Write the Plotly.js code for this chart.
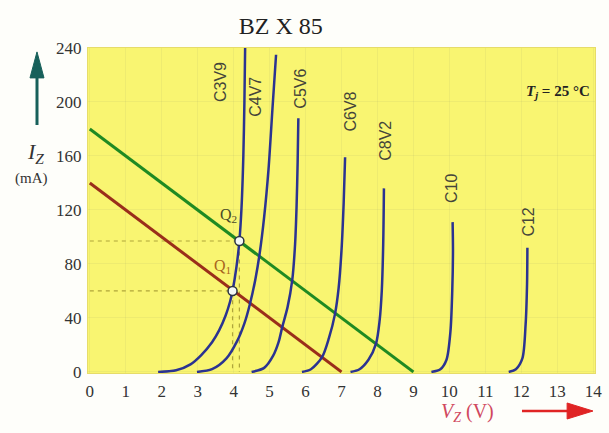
<!DOCTYPE html>
<html>
<head>
<meta charset="utf-8">
<script src="https://cdn.plot.ly/plotly-3.0.1.min.js"></script>
<style>
  html, body { margin: 0; padding: 0; background: #fefefa; }
  #chart { width: 609px; height: 433px; }
</style>
</head>
<body>
<div id="chart"></div>
<script>
// Zener reverse characteristics, BZX85 series (Tj = 25 °C)
const voltTicks = [0, 1, 2, 3, 4, 5, 6, 7, 8, 9, 10, 11, 12, 13, 14];
const currentTicks = [0, 40, 80, 120, 160, 200, 240];

// Diode curves: voltage (V) and current (mA)
const c3v9V = [1.9, 2.4, 2.8, 3.1, 3.4, 3.6, 3.78, 3.9, 3.97, 4.08, 4.16, 4.22, 4.27, 4.3, 4.32];
const c3v9I = [0, 1.2, 5.6, 12.5, 22, 31, 42, 52, 60, 78, 97, 122, 160, 200, 240];
const c4v7V = [2.98, 3.4, 3.8, 4.1, 4.3, 4.45, 4.6, 4.72, 4.85, 4.97, 5.08, 5.18];
const c4v7I = [0, 2, 10, 23, 36, 50, 68, 87, 115, 150, 195, 235];
const c5v6V = [4.5, 4.85, 5.1, 5.25, 5.35, 5.5, 5.63, 5.71, 5.75, 5.78, 5.8];
const c5v6I = [0, 3, 12, 22, 33, 48, 68, 95, 122, 155, 188];
const c6v8V = [5.9, 6.15, 6.46, 6.65, 6.82, 6.92, 7.0, 7.06, 7.1];
const c6v8I = [0, 2, 11, 25, 43, 62, 90, 125, 159];
const c8v2V = [7.25, 7.5, 7.75, 7.96, 8.06, 8.12, 8.16, 8.18];
const c8v2I = [0, 2, 9, 21, 38, 60, 95, 136];
const c10V = [9.5, 9.75, 9.92, 10.03, 10.08, 10.1, 10.09];
const c10I = [0, 2, 9, 30, 60, 90, 111];
const c12V = [11.65, 11.85, 12.03, 12.12, 12.16, 12.17];
const c12I = [0, 2, 10, 35, 65, 92];

const diodeNames = ['C3V9', 'C4V7', 'C5V6', 'C6V8', 'C8V2', 'C10', 'C12'];

// Load lines
const loadHighV = [0, 9];
const loadHighI = [180, 0];
const loadLowV = [0, 7];
const loadLowI = [140, 0];

// Operating points
const q1 = [3.97, 60];
const q2 = [4.16, 97];

const curveSets = [
  [c3v9V, c3v9I], [c4v7V, c4v7I], [c5v6V, c5v6I], [c6v8V, c6v8I],
  [c8v2V, c8v2I], [c10V, c10I], [c12V, c12I]
];
// label placement (x, y) for each diode name
const labelPos = [[3.63, 215], [4.6, 204], [5.85, 210], [7.24, 193], [8.2, 171], [10.06, 136], [12.2, 111]];

const navy = '#2b3391';
const dashCol = '#b0a53a';
const traces = [];

// Dashed guides to the operating points
[q1, q2].forEach(q => {
  traces.push({ x: [0, q[0], q[0]], y: [q[1], q[1], 0], mode: 'lines',
    line: { color: dashCol, width: 1.2, dash: '4px,4px' }, hoverinfo: 'skip' });
});

traces.push({ x: loadLowV, y: loadLowI, mode: 'lines', line: { color: '#9a2e1a', width: 3 } });
traces.push({ x: loadHighV, y: loadHighI, mode: 'lines', line: { color: '#1f8a22', width: 3 } });

curveSets.forEach(c => {
  traces.push({ x: c[0], y: c[1], mode: 'lines',
    line: { color: navy, width: 2.5, shape: 'spline', smoothing: 0.8 } });
});

traces.push({ x: [q1[0], q2[0]], y: [q1[1], q2[1]], mode: 'markers',
  marker: { size: 9, color: '#f4f8f6', line: { color: '#2b3340', width: 1.5 } } });

const ann = [];
diodeNames.forEach((n, i) => {
  ann.push({ x: labelPos[i][0], y: labelPos[i][1], xref: 'x', yref: 'y', text: n,
    showarrow: false, textangle: -90,
    font: { family: 'Liberation Sans, Arial, sans-serif', size: 16, color: '#45453a' } });
});
ann.push({ x: 3.85, y: 116, xref: 'x', yref: 'y', text: 'Q<sub>2</sub>', showarrow: false,
  font: { family: 'Liberation Serif, serif', size: 16, color: '#4a4a28' } });
ann.push({ x: 3.7, y: 78, xref: 'x', yref: 'y', text: 'Q<sub>1</sub>', showarrow: false,
  font: { family: 'Liberation Serif, serif', size: 16, color: '#a8641c' } });
ann.push({ x: 0.994, y: 0.865, xref: 'paper', yref: 'paper', xanchor: 'right', yanchor: 'middle',
  text: '<b><i>T<sub>j</sub></i> = 25 °C</b>',
  showarrow: false, font: { family: 'Liberation Serif, serif', size: 15, color: '#222' } });
ann.push({ x: -0.1026, y: 0.677, xref: 'paper', yref: 'paper', xanchor: 'center', yanchor: 'middle',
  text: '<i>I<sub>Z</sub></i>',
  showarrow: false, font: { family: 'Liberation Serif, serif', size: 22, color: '#333' } });
ann.push({ x: -0.112, y: 0.6, xref: 'paper', yref: 'paper', xanchor: 'center', yanchor: 'middle',
  text: '(mA)',
  showarrow: false, font: { family: 'Liberation Serif, serif', size: 15, color: '#333' } });
ann.push({ x: 0.7495, y: -0.123, xref: 'paper', yref: 'paper', xanchor: 'center', yanchor: 'middle',
  text: '<i>V<sub>Z</sub></i> (V)',
  showarrow: false, font: { family: 'Liberation Serif, serif', size: 20, color: '#d0485e' } });

const shapes = [
  // vertical arrow for current
  { type: 'line', xref: 'paper', yref: 'paper', x0: -0.1006, x1: -0.1006, y0: 0.763, y1: 0.92,
    line: { color: '#17605a', width: 3 } },
  { type: 'path', xref: 'paper', yref: 'paper', path: 'M -0.1006 0.988 L -0.1144 0.908 L -0.0868 0.908 Z',
    fillcolor: '#17605a', line: { color: '#17605a', width: 1 } },
  // horizontal arrow for voltage
  { type: 'line', xref: 'paper', yref: 'paper', x0: 0.856, x1: 0.955, y0: -0.117, y1: -0.117,
    line: { color: '#e02424', width: 2.5 } },
  { type: 'path', xref: 'paper', yref: 'paper', path: 'M 0.996 -0.117 L 0.945 -0.0923 L 0.945 -0.1415 Z',
    fillcolor: '#e02424', line: { color: '#e02424', width: 1 } }
];

const tickFont = { family: 'Liberation Serif, serif', size: 17, color: '#333' };

const layout = {
  width: 609, height: 433,
  margin: { l: 88, r: 14, t: 48, b: 60 },
  paper_bgcolor: '#fefefa',
  plot_bgcolor: '#f9f571',
  showlegend: false,
  title: { text: 'BZ X 85', x: 0.461, xref: 'container', y: 0.942, yref: 'container',
    xanchor: 'center', yanchor: 'middle',
    font: { family: 'Liberation Serif, serif', size: 24, color: '#222' } },
  xaxis: {
    range: [-0.05, 14.05], tickvals: voltTicks, ticktext: voltTicks.map(String),
    showgrid: true, gridcolor: 'rgba(150,150,110,0.10)', gridwidth: 1,
    zeroline: false, showline: true, linecolor: '#e6dc6a', mirror: true,
    ticks: '', tickfont: tickFont, ticklabelstandoff: 3, fixedrange: true
  },
  yaxis: {
    range: [-0.8, 240], tickvals: currentTicks, ticktext: currentTicks.map(String),
    showgrid: true, gridcolor: 'rgba(150,150,110,0.10)', gridwidth: 1,
    zeroline: false, showline: true, linecolor: '#e6dc6a', mirror: true,
    ticks: '', tickfont: tickFont, ticklabelstandoff: 2, fixedrange: true
  },
  annotations: ann,
  shapes: shapes
};

Plotly.newPlot('chart', traces, layout, { staticPlot: true, displayModeBar: false });
</script>
</body>
</html>
